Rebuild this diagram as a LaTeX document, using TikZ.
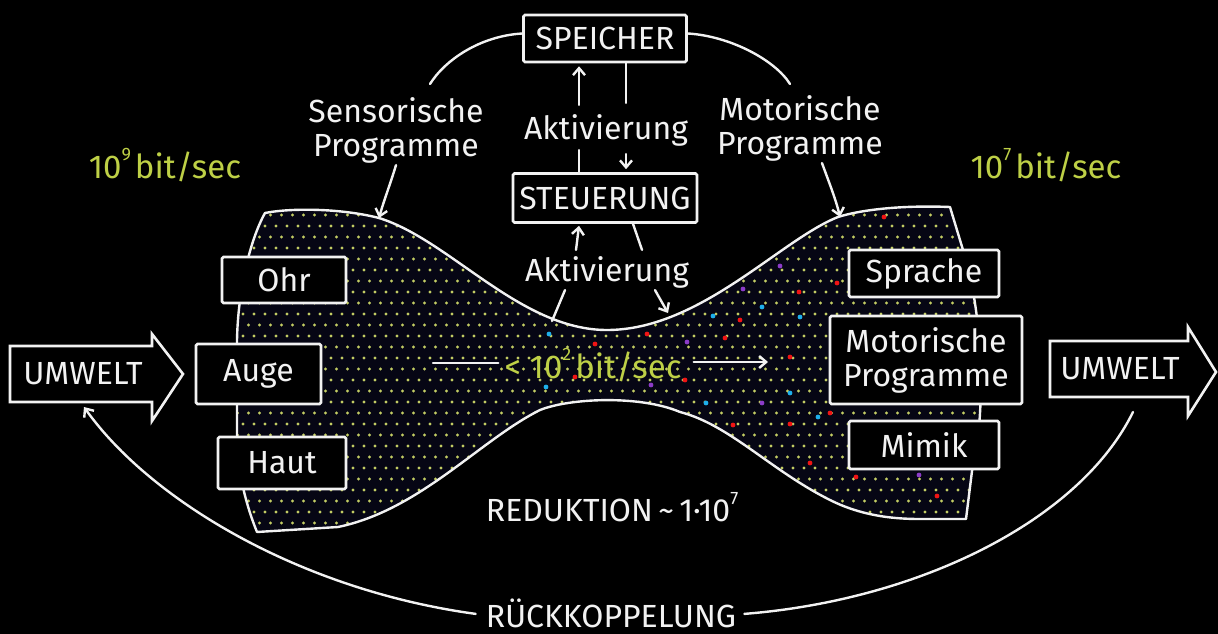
\documentclass[tikz,border=0pt]{standalone}
\usepackage{fontspec}
\setmainfont{Fira Sans}
\usetikzlibrary{arrows.meta}
\definecolor{chalk}{RGB}{242,242,242}
\definecolor{lime}{RGB}{190,208,70}
\definecolor{blobbg}{RGB}{6,6,20}
\definecolor{dotc}{RGB}{195,205,100}
\definecolor{rdot}{RGB}{240,20,20}
\definecolor{cdot}{RGB}{30,175,235}
\definecolor{pdot}{RGB}{140,60,200}
\newcommand{\supnum}[1]{\raisebox{0.55em}{\fontsize{18}{18}\selectfont #1}\hspace{0.12em}}
\begin{document}
\begin{tikzpicture}[x=1pt,y=-1pt,
  line/.style={draw=chalk,line width=2.4pt,line cap=round,line join=round},
  arr/.style={line,-{Straight Barb[length=7pt,width=12pt]}},
  box/.style={draw=chalk,fill=black,line width=2.6pt,inner sep=0pt,rounded corners=1.5pt,
              text=chalk,font=\fontsize{32}{34}\selectfont,align=center},
  lbl/.style={text=chalk,font=\fontsize{32}{34}\selectfont,inner sep=0pt,align=center},
  glbl/.style={text=lime,font=\fontsize{33}{35}\selectfont,inner sep=0pt},
  bigarrow/.style={draw=chalk,fill=black,line width=2.6pt,line join=miter},
]
\useasboundingbox (0,0) rectangle (1218,634);
\fill[black] (0,0) rectangle (1218,634);

\def\blobpath{(265,213) .. controls (290,208) and (340,208) .. (379,218)
  .. controls (450,240) and (520,330) .. (607,330)
  .. controls (700,330) and (780,240) .. (838,217)
  .. controls (860,210) and (900,205) .. (950,207)
  -- (963,250) .. controls (985,320) and (985,420) .. (972,471)
  -- (966,519) -- (920,519)
  .. controls (890,519) and (860,515) .. (830,500)
  .. controls (770,470) and (730,425) .. (680,412)
  .. controls (640,395) and (570,398) .. (540,410)
  .. controls (480,440) and (420,510) .. (338,527)
  -- (257,532) .. controls (250,515) and (238,480) .. (237,440)
  -- (237,340) .. controls (238,290) and (250,240) .. (265,213) -- cycle}

% blob with dots
\fill[blobbg] \blobpath;
\begin{scope}
  \clip \blobpath;
  \foreach \j in {0,...,31}{
    \foreach \i in {0,...,70}{
      \fill[dotc] ({232+\i*11+mod(\j,2)*5.5},{204+\j*11}) circle (1.7pt);
    }
  }
  \foreach \p in {(884,217),(837,283),(799,292),(647,334),(595,344),(575,377),(685,380),
                  (740,320),(725,338),(790,357),(733,425),(790,424),(810,463),(830,413),
                  (856,477),(937,496)}
    \fill[rdot] \p circle (2.4pt);
  \foreach \p in {(549,334),(546,387),(713,316),(762,307),(800,317),(706,403),(790,393),(818,417)}
    \fill[cdot] \p circle (2.4pt);
  \foreach \p in {(687,342),(651,385),(762,403),(780,266),(743,289),(919,475)}
    \fill[pdot] \p circle (2.4pt);
\end{scope}
\draw[line] \blobpath;

% free connector ends on the blob edge
\coordinate (edgeS) at (379,218);
\coordinate (edgeM) at (840,217);
\coordinate (edgeAL) at (552,321);
\coordinate (edgeAR) at (668,313);
\coordinate (arcL) at (430,84);
\coordinate (arcR) at (790,84);
\coordinate (flowL) at (433,363);
\coordinate (flowR) at (768,362);
\coordinate (fbL) at (84,407);
\coordinate (fbR) at (1133,412);

% top boxes
\node[box,minimum width=163pt,minimum height=47pt] (speicher) at (605,38.5) {SPEICHER};
\node[box,minimum width=184pt,minimum height=49pt] (steuerung) at (605,198) {STEUERUNG};
\node[lbl] (akt1) at (606,130) {Aktivierung};
\node[lbl] (akt2) at (607,272) {Aktivierung};

\node[lbl] (sensor) at (396,130) {Sensorische\\Programme};
\node[lbl] (motor) at (800,128) {Motorische\\Programme};

% left boxes
\node[box,minimum width=124pt,minimum height=46pt] (ohr) at (284,280) {Ohr};
\node[box,minimum width=125pt,minimum height=60pt] (auge) at (258.5,374) {Auge};
\node[box,minimum width=128pt,minimum height=52pt] (haut) at (282,463) {Haut};

% right boxes
\node[box,minimum width=150pt,minimum height=47pt] (sprache) at (924,273.5) {Sprache};
\node[box,minimum width=192pt,minimum height=88pt] (motbox) at (926,360) {Motorische\\Programme};
\node[box,minimum width=150pt,minimum height=48pt] (mimik) at (924,445) {Mimik};

% UMWELT arrows
\draw[bigarrow] (10,346) -- (152,346) -- (152,334) -- (183,374) -- (152,421) -- (152,402) -- (10,402) -- cycle;
\node[lbl] (umL) at (83,374) {UMWELT};
\draw[bigarrow] (1050,341) -- (1188,341) -- (1188,327) -- (1216,372) -- (1188,416) -- (1188,397) -- (1050,397) -- cycle;
\node[lbl] (umR) at (1120,369) {UMWELT};

% green rates
\node[glbl] (r9) at (165,165) {10\supnum{9}bit/sec};
\node[glbl] (r7) at (1046,165) {10\supnum{7}bit/sec};
\node[glbl] (mid) at (593,365) {< 10\supnum{2}bit/sec};

\node[lbl] (red) at (614,507) {REDUKTION\,\textasciitilde\,1\textperiodcentered 10\supnum{7}};
\node[lbl,anchor=base] (rk) at (611,627) {RÜCKKOPPELUNG};

% connectors
\draw[line] ([yshift=5pt]speicher.west) .. controls (480,36) and (445,60) .. (arcL);
\draw[line] ([yshift=5pt]speicher.east) .. controls (730,36) and (775,60) .. (arcR);
\draw[arr] ([yshift=-2pt]sensor.south) .. controls (390,185) and (384,200) .. (edgeS);
\draw[arr] ([xshift=22pt,yshift=-2pt]motor.south) .. controls (830,185) and (836,200) .. (edgeM);

\draw[line] ([xshift=-26pt]steuerung.north) -- ([xshift=-27pt,yshift=-4pt]akt1.south);
\draw[arr] ([xshift=-27pt,yshift=9pt]akt1.north) -- ([xshift=-26pt,yshift=-3pt]speicher.south);
\draw[line] ([xshift=21pt]speicher.south) -- ([xshift=20pt,yshift=11pt]akt1.north);
\draw[arr] ([xshift=20pt,yshift=-8pt]akt1.south) -- ([xshift=21pt,yshift=3pt]steuerung.north);

\draw[arr] ([xshift=-31pt,yshift=6pt]akt2.north) -- ([xshift=-26pt,yshift=-2pt]steuerung.south);
\draw[line] (edgeAL) -- ([xshift=-42pt,yshift=-2pt]akt2.south);
\draw[line] ([xshift=28pt]steuerung.south) -- ([xshift=35pt,yshift=6pt]akt2.north);
\draw[arr] ([xshift=48pt,yshift=-2pt]akt2.south) -- (edgeAR);

\draw[line] (flowL) -- ([xshift=-6pt,yshift=2pt]mid.west);
\draw[arr] ([xshift=12pt,yshift=3pt]mid.east) -- (flowR);

\draw[arr] ([xshift=-10pt,yshift=-1pt]rk.west) .. controls (300,590) and (150,500) .. (fbL);
\draw[line] ([xshift=8pt,yshift=-1pt]rk.east) .. controls (920,600) and (1080,520) .. (fbR);
\end{tikzpicture}
\end{document}
